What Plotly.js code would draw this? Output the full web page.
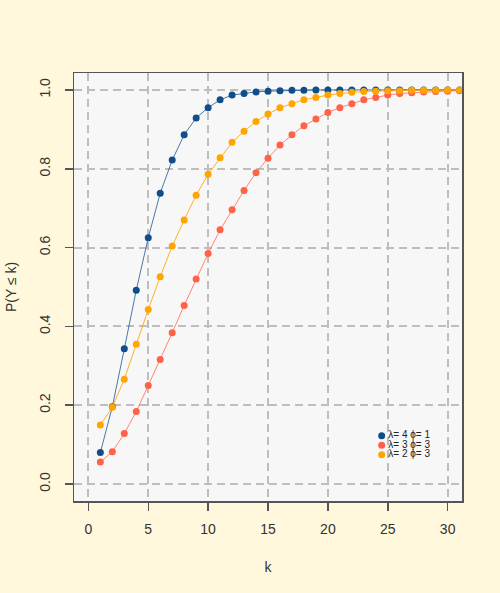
<!DOCTYPE html>
<html>
<head>
<meta charset="utf-8">
<script src="https://cdn.plot.ly/plotly-3.0.1.min.js"></script>
<style>
  html, body { margin: 0; padding: 0; background: #FFF8DC; }
  #chart { width: 500px; height: 593px; }
</style>
</head>
<body>
<div id="chart"></div>
<script>
// ---- data ----
const k = [1,2,3,4,5,6,7,8,9,10,11,12,13,14,15,16,17,18,19,20,21,22,23,24,25,26,27,28,29,30,31];

const cdfL4P1 = [0.080,0.196,0.343,0.492,0.625,0.738,0.822,0.886,0.929,0.955,0.975,0.987,0.991,0.995,0.997,
                 0.998,0.999,0.999,1.000,1.000,1.000,1.000,1.000,1.000,1.000,1.000,1.000,1.000,1.000,1.000,1.000];
const cdfL3P3 = [0.056,0.082,0.128,0.184,0.250,0.316,0.384,0.453,0.520,0.585,0.645,0.696,0.745,0.790,0.827,
                 0.860,0.886,0.909,0.926,0.943,0.955,0.965,0.975,0.981,0.987,0.991,0.993,0.995,0.996,0.997,0.998];
const cdfL2P3 = [0.150,0.195,0.266,0.355,0.443,0.526,0.604,0.670,0.733,0.786,0.828,0.867,0.895,0.920,0.939,
                 0.955,0.965,0.975,0.981,0.987,0.991,0.994,0.996,0.997,0.998,0.998,0.999,0.999,0.999,1.000,1.000];

const seriesLabels = ["λ= 4 ϕ= 1", "λ= 3 ϕ= 3", "λ= 2 ϕ= 3"];
const xTicks = [0,5,10,15,20,25,30];
const yTicks = [0,0.2,0.4,0.6,0.8,1.0];
const yTickText = ["0.0","0.2","0.4","0.6","0.8","1.0"];

// ---- styles ----
const pointColors = ["#104E8B", "#FF6347", "#FFA500"];
const lineColors  = ["rgba(16,78,139,0.75)", "rgba(255,99,71,0.75)", "rgba(255,165,0,0.85)"];
const seriesData  = [cdfL4P1, cdfL3P3, cdfL2P3];

const traces = seriesData.map((y, i) => ({
  type: 'scatter', mode: 'lines+markers',
  x: k, y: y,
  line: { color: lineColors[i], width: 1 },
  marker: { color: pointColors[i], size: 7 },
  showlegend: false, hoverinfo: 'skip'
}));

// custom compact legend on an overlay (0..1) coordinate system
const legX = 0.793, legTextX = 0.810, legY0 = 0.1526, legStep = 0.0222;
const legYs = seriesLabels.map((_, i) => legY0 - i * legStep);
traces.push({
  type: 'scatter', mode: 'markers',
  xaxis: 'x2', yaxis: 'y2',
  x: seriesLabels.map(() => legX), y: legYs,
  marker: { color: pointColors, size: 7 },
  showlegend: false, hoverinfo: 'skip', cliponaxis: false
});
traces.push({
  type: 'scatter', mode: 'text',
  xaxis: 'x2', yaxis: 'y2',
  x: seriesLabels.map(() => legTextX), y: legYs,
  text: seriesLabels,
  textposition: 'middle right',
  textfont: { family: 'Liberation Sans, Arial, sans-serif', size: 10, color: '#222222' },
  showlegend: false, hoverinfo: 'skip', cliponaxis: false
});

const font = { family: 'Liberation Sans, Arial, sans-serif', size: 14, color: '#333333' };

const layout = {
  width: 500, height: 593,
  paper_bgcolor: '#FFF8DC',
  plot_bgcolor: '#F7F7F7',
  margin: { l: 74, r: 38, t: 73, b: 92 },
  font: font,
  showlegend: false,
  xaxis: {
    range: [-1.2, 31.2],
    tickvals: xTicks, ticktext: xTicks.map(String),
    ticks: 'outside', ticklen: 8, tickwidth: 1.5, tickcolor: '#555555',
    ticklabelstandoff: 7,
    showline: true, mirror: true, linecolor: '#555555', linewidth: 1.5,
    showgrid: true, gridcolor: '#BEBEBE', gridwidth: 2, griddash: '8px,5px',
    zeroline: false,
    layer: 'above traces',
    title: { text: 'k', font: font, standoff: 26 },
    automargin: false
  },
  yaxis: {
    range: [-0.043, 1.043],
    tickvals: yTicks, ticktext: yTickText,
    tickangle: -90,
    ticks: 'outside', ticklen: 8, tickwidth: 1.5, tickcolor: '#555555',
    ticklabelstandoff: 9,
    showline: true, mirror: true, linecolor: '#555555', linewidth: 1.5,
    showgrid: true, gridcolor: '#BEBEBE', gridwidth: 2, griddash: '8px,5px',
    zeroline: false,
    layer: 'above traces',
    title: { text: 'P(Y ≤ k)', font: font, standoff: 17 },
    automargin: false
  },
  xaxis2: { overlaying: 'x', range: [0, 1], visible: false, fixedrange: true },
  yaxis2: { overlaying: 'y', range: [0, 1], visible: false, fixedrange: true }
};

Plotly.newPlot('chart', traces, layout, { displayModeBar: false, staticPlot: true });
</script>
</body>
</html>
